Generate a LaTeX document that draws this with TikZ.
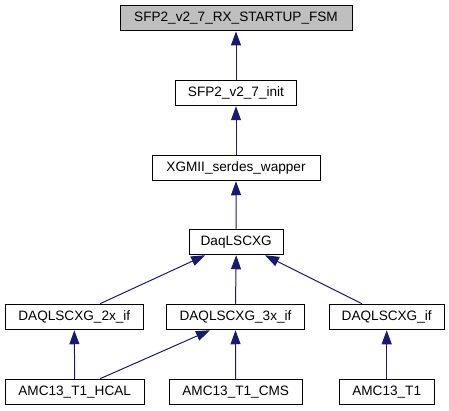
\documentclass[tikz,border=0pt]{standalone}
\usepackage{fontspec}
\setmainfont{Liberation Sans}
\usetikzlibrary{arrows.meta}
\definecolor{edgecol}{RGB}{25,25,112}
\definecolor{topfill}{RGB}{191,191,191}
\tikzset{
  cls/.style={draw=black, line width=1pt, fill=white, inner sep=0pt, minimum height=25.5pt,
    font=\fontsize{13.6}{16}\selectfont, anchor=center},
  edge/.style={draw=edgecol, line width=1pt, {Triangle[length=14pt,width=10pt,fill=edgecol]}-}
}
\begin{document}
\begin{tikzpicture}[x=1pt,y=-1pt]
\useasboundingbox (0,0) rectangle (449,411);
\node[cls, fill=topfill, minimum width=232pt] (fsm) at (236,18.2) {SFP2\_v2\_7\_RX\_STARTUP\_FSM};
\node[cls, minimum width=121.7pt] (init) at (236,93) {SFP2\_v2\_7\_init};
\node[cls, minimum width=168pt] (xg) at (236,168) {XGMII\_serdes\_wapper};
\node[cls, minimum width=94.3pt] (daq) at (236.2,242) {DaqLSCXG};
\node[cls, minimum width=138pt] (d2x) at (74.3,317) {DAQLSCXG\_2x\_if};
\node[cls, minimum width=137.6pt] (d3x) at (235.5,317) {DAQLSCXG\_3x\_if};
\node[cls, minimum width=115.3pt] (dif) at (386.7,317) {DAQLSCXG\_if};
\node[cls, minimum width=138.7pt] (hcal) at (74.7,392) {AMC13\_T1\_HCAL};
\node[cls, minimum width=133.3pt] (cms) at (235.7,392) {AMC13\_T1\_CMS};
\node[cls, minimum width=94.7pt] (t1) at (386.7,392) {AMC13\_T1};
\draw[edge] (fsm.south) -- (init.north);
\draw[edge] (init.south) -- (xg.north);
\draw[edge] (xg.south) -- (daq.north);
\draw[edge] ([xshift=-31pt]daq.south) -- ([xshift=25.7pt]d2x.north);
\draw[edge] (daq.south) -- (d3x.north);
\draw[edge] ([xshift=28.8pt]daq.south) -- ([xshift=-24.7pt]dif.north);
\draw[edge] (d2x.south) -- (hcal.north);
\draw[edge] ([xshift=-25.5pt]d3x.south) -- ([xshift=25.3pt]hcal.north);
\draw[edge] (d3x.south) -- (cms.north);
\draw[edge] (dif.south) -- (t1.north);
\end{tikzpicture}
\end{document}
